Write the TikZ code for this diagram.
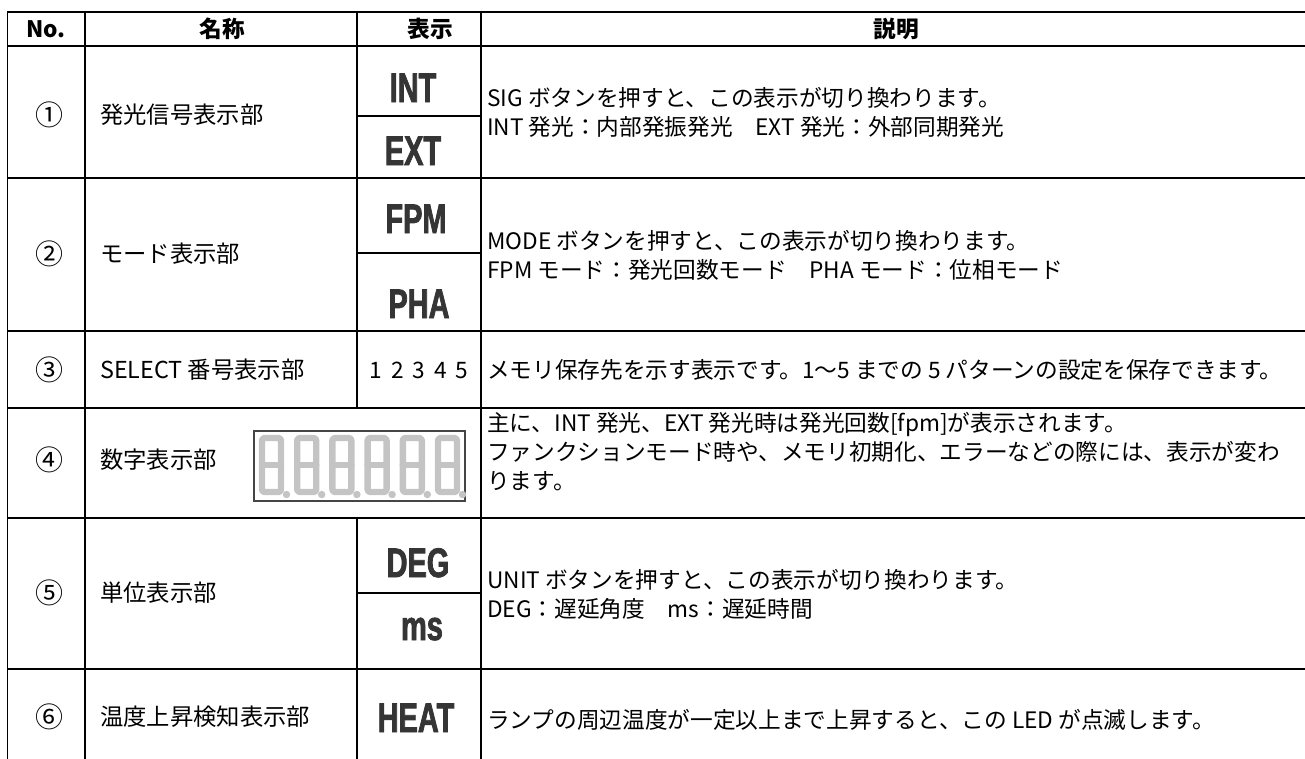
\documentclass[tikz,border=0pt]{standalone}
\usepackage{fontspec}
\setmainfont{Noto Sans CJK JP}
\newfontfamily\dispfont[FakeStretch=0.70,BoldFeatures={FakeBold=1.8}]{Liberation Sans}
\definecolor{labelgray}{HTML}{353535}
\definecolor{seggray}{HTML}{C4C4C4}
\definecolor{boxgray}{HTML}{454545}

\begin{document}
\begin{tikzpicture}[x=0.75pt,y=-0.75pt]

\tikzset{gridline/.style = {line width=1.2pt, line cap=rect}}
\tikzset{headtxt/.style = {font=\fontsize{17}{20}\selectfont\bfseries, inner sep=0pt}}
\tikzset{numtxt/.style = {font=\fontsize{21}{24}\selectfont, inner sep=0pt}}
\tikzset{parttxt/.style = {font=\fontsize{17.5}{20}\selectfont, anchor=west, inner sep=0pt}}
\tikzset{disp/.style = {font=\dispfont\bfseries\fontsize{31}{31}\selectfont, text=labelgray, anchor=base, inner sep=0pt}}
\tikzset{desc/.style = {font=\fontsize{17}{21.8}\selectfont, anchor=west, align=left, inner sep=0pt}}
\tikzset{seg/.style = {line width=4.8pt, seggray, line join=round, line cap=round}}

\useasboundingbox (0,0) rectangle (1305,758);

% table rules
\foreach \y in {12,46,178,331,408,518,669}
  \draw[gridline] (7.5,\y) -- (1305,\y);
\foreach \y in {116,253,593}
  \draw[gridline] (357,\y) -- (481,\y);
\foreach \x in {7.5,85,481}
  \draw[gridline] (\x,12) -- (\x,758);
\draw[gridline] (357,12) -- (357,408);
\draw[gridline] (357,518) -- (357,758);

% header
\node[headtxt] (hno) at (46,29) {No.};
\node[headtxt] (hname) at (222,29) {名称};
\node[headtxt] (hdisp) at (430,29) {表示};
\node[headtxt] (hdesc) at (896,29) {説明};

% numbers
\node[numtxt] (n1) at (50,115) {①};
\node[numtxt] (n2) at (50,254) {②};
\node[numtxt] (n3) at (50,370) {③};
\node[numtxt] (n4) at (50,460) {④};
\node[numtxt] (n5) at (50,593) {⑤};
\node[numtxt] (n6) at (50,717) {⑥};

% names
\node[parttxt] (p1) at (100,115) {発光信号表示部};
\node[parttxt] (p2) at (100,254) {モード表示部};
\node[parttxt] (p3) at (100,370) {SELECT 番号表示部};
\node[parttxt] (p4) at (100,460) {数字表示部};
\node[parttxt] (p5) at (100,593) {単位表示部};
\node[parttxt] (p6) at (100,717) {温度上昇検知表示部};

% display labels
\node[disp] (dint) at (413,102) {INT};
\node[disp] (dext) at (413,165) {EXT};
\node[disp] (dfpm) at (416,233) {FPM};
\node[disp] (dpha) at (419,318) {PHA};
\node[font=\fontsize{17}{20}\selectfont, inner sep=0pt] (dsel) at (419,370) {1\hspace{0.4em}2\hspace{0.4em}3\hspace{0.4em}4\hspace{0.4em}5};
\node[disp] (ddeg) at (418,577) {DEG};
\node[disp] (dms) at (422,640) {ms};
\node[disp] (dheat) at (416,732) {HEAT};

% digit display
\draw[boxgray, line width=1.6pt] (254,431) rectangle (465,501);
\foreach \i in {0,...,5} {
  \pgfmathsetmacro\a{262+35.2*\i}
  \draw[seg, rounded corners=2pt] (\a,438) rectangle (\a+19,492);
  \draw[seg] (\a,465) -- (\a+19,465);
  \fill[seggray] (\a+24.5,494.5) circle[radius=2.8pt];
}

% descriptions
\node[desc] (t1) at (487,112) {SIG ボタンを押すと、この表示が切り換わります。\\INT 発光：内部発振発光　EXT 発光：外部同期発光};
\node[desc] (t2) at (487,255) {MODE ボタンを押すと、この表示が切り換わります。\\FPM モード：発光回数モード　PHA モード：位相モード};
\node[desc] (t3) at (487,370) {メモリ保存先を示す表示です。1～5 までの 5 パターンの設定を保存できます。};
\node[desc] (t4) at (487,452) {主に、INT 発光、EXT 発光時は発光回数[fpm]が表示されます。\\ファンクションモード時や、メモリ初期化、エラーなどの際には、表示が変わ\\ります。};
\node[desc] (t5) at (487,594) {UNIT ボタンを押すと、この表示が切り換わります。\\DEG：遅延角度　ms：遅延時間};
\node[desc] (t6) at (487,720) {ランプの周辺温度が一定以上まで上昇すると、この LED が点滅します。};

\end{tikzpicture}
\end{document}
